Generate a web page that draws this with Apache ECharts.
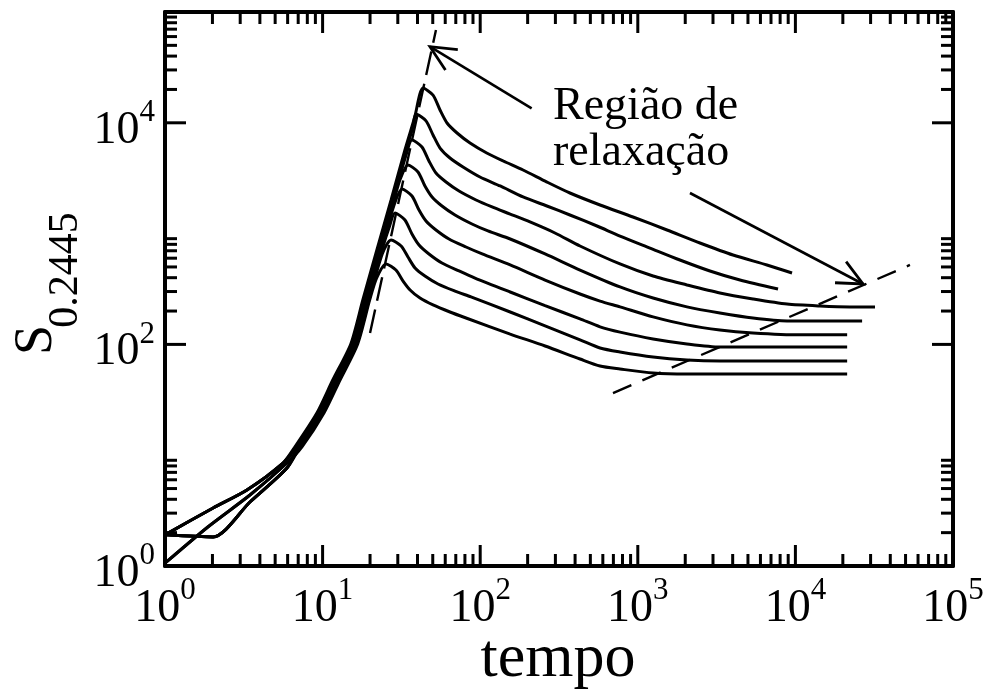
<!DOCTYPE html>
<html>
<head>
<meta charset="utf-8">
<script src="https://cdn.jsdelivr.net/npm/echarts@6/dist/echarts.min.js"></script>
<style>
  html, body { margin: 0; padding: 0; background: #fff; }
  #chart { width: 990px; height: 692px; }
</style>
</head>
<body>
<div id="chart"></div>
<script>
// ---------------- data ----------------
// axis extents and ticks (log10 scales)
const tMin = 1, tMax = 1e5;
const sMin = 1, sMax = 1e5;
const xMajorTicks = [1, 10, 100, 1000, 10000, 100000];
const xMinorDecades = [1, 10, 100, 1000, 10000];
const yMajorTicks = [1, 100, 10000];
const yMinorDecades = [1, 100, 10000];
const minorMultipliers = [2, 3, 4, 5, 6, 7, 8, 9];
const yLabelledExponents = [0, 2, 4];

// S_0.2445 versus tempo, one array per run ([tempo, S])
const run1 = [[1,1.91],[2.02,3.34],[3.31,4.85],[5.61,8.5],[6.68,11.9],[9.2,24],[11.6,47.7],[15.1,101],[18.0,252],[22.1,711],[27.2,2010],[33.3,5690],[38.3,11050],
  [43.4,20600],[50.2,17800],[55.6,13050],[61.6,9960],[71.3,8090],[86.2,6570],[110,5340],[140,4520],[187,3750],[265,2920],[371,2325],[576,1812],[932,1412],[1532,1078],[2480,823],[4020,641],[6600,521],[9520,441]];
const run2 = [[1,1.91],[2.02,3.34],[3.31,4.85],[5.61,8.5],[6.78,11.9],[9.34,24],[11.8,47.7],[15.3,101],[18.3,252],[22.4,711],[27.6,2010],[33.8,5690],[37.3,8980],
  [39.1,12000],[45.3,10400],[50.2,7760],[55.6,5920],[64.3,4810],[77.8,3990],[99.7,3240],[134,2690],[187,2140],[265,1775],[371,1472],[551,1171],[771,951],[1195,741],[1850,578],[2870,460],[4450,381],[7760,316]];
const run3 = [[1,1.91],[2.02,3.34],[3.31,4.85],[5.61,8.5],[6.88,11.9],[9.48,24],[11.9,47.7],[15.6,101],[18.5,252],[22.8,711],[28.0,2010],[34.0,5230],
  [36.9,7000],[42.7,6050],[47.3,4520],[52.4,3520],[60.7,2920],[73.4,2420],[94.1,2010],[119,1740],[155,1500],[207,1273],[298,1013],[430,773],[771,532],[1250,414],[2050,344],[3320,291],[5380,257],[8850,231],[14300,222],[22200,218],[32000,218]];
const run4 = [[1,1.91],[2.02,1.83],[3.46,3.78],[5.94,7.66],[6.98,11.9],[9.61,24],[12.1,47.7],[15.8,101],[18.8,252],[23.1,711],[28.4,2010],[31.1,3110],
  [34.8,4160],[40.3,3600],[44.6,2690],[49.5,2140],[57.2,1775],[69.2,1472],[88.7,1221],[112,1056],[155,894],[258,655],[430,469],[771,330],[1250,262],[2050,218],[3320,192],[5380,173],[8850,163],[14300,163],[26500,163]];
const run5 = [[1,1.91],[2.02,1.83],[3.46,3.78],[5.94,7.66],[7.08,11.9],[9.75,24],[12.3,47.7],[16.0,101],[19.1,252],[23.4,711],[28.7,1890],
  [31.9,2530],[36.9,2185],[40.9,1633],[45.3,1299],[52.4,1078],[63.4,894],[81.3,757],[103,655],[155,521],[258,381],[430,285],[576,246],[771,218],[1250,177],[2050,150],[3320,135],[5380,127],[10700,122],[21300,122]];
const run6 = [[1,1.91],[2.02,1.83],[3.46,3.78],[5.94,7.66],[7.19,11.9],[9.9,24],[12.5,47.7],[16.2,101],[19.4,252],[23.8,711],[26.5,1147],
  [28.8,1534],[33.3,1327],[36.9,992],[40.9,789],[47.3,655],[57.2,543],[73.4,460],[92.7,397],[155,297],[258,224],[430,170],[576,144],[771,129],[1250,112],[2050,101],[3320,94.7],[5960,94.7],[10700,94.7],[21300,94.7]];
const run7 = [[1,1.06],[1.87,2.25],[3.46,4.37],[5.94,8.5],[7.29,11.9],[10.0,24],[12.7,47.7],[16.5,101],[19.7,252],[23.9,655],
  [27.2,875],[31.5,773],[34.8,615],[38.6,489],[44.6,414],[54.0,351],[69.2,303],[87.4,268],[155,196],[258,147],[430,110],[576,92.8],[771,85.4],[1250,76.9],[2050,72.3],[3320,70.8],[5960,70.8],[10700,70.8],[21300,70.8]];
const run8 = [[1,1.06],[1.87,2.25],[3.46,4.37],[5.94,8.5],[7.40,11.9],[10.2,24],[12.9,47.7],[16.7,101],[19.9,252],[22.0,397],
  [25.3,532],[29.2,469],[32.4,373],[35.9,310],[41.5,262],[50.2,227],[64.3,196],[81.3,173],[155,124],[258,96.7],[430,73.8],[576,63.8],[771,60.0],[1250,55.2],[2050,54.1],[3320,54.1],[5960,54.1],[10700,54.1],[21300,54.1]];
const runs = [run1, run2, run3, run4, run5, run6, run7, run8];

// guide lines through the peaks and through the plateaus
const peakGuide = [[20.0,127],[52.4,68800]];
const plateauGuide = [[696,36.4],[53300,521]];

// annotation arrows: [tempo start, S start, tempo tip, S tip]
const arrows = [
  [212, 13500, 48.0, 48600],
  [2143, 2324, 26850, 351]
];
const annotationText = 'Região de\nrelaxação';
const xTitle = 'tempo';
const yTitleMain = 'S';
const yTitleSub = '0.2445';

// ---------------- chart ----------------
const FONT = '"Liberation Serif", "Times New Roman", serif';
const chart = echarts.init(document.getElementById('chart'), null, { renderer: 'canvas' });

const expOf = v => Math.round(Math.log10(v));
const labelRich = {
  b: { fontSize: 46, fontFamily: FONT, color: '#000', lineHeight: 67 },
  e: { fontSize: 31, fontFamily: FONT, color: '#000', lineHeight: 31, verticalAlign: 'top' }
};

const xTickData = [];
xMajorTicks.forEach(v => xTickData.push([v, sMin, 1]));
xMinorDecades.forEach(d => minorMultipliers.forEach(m => xTickData.push([d * m, sMin, 0])));
const yTickData = [];
yMajorTicks.forEach(v => yTickData.push([tMin, v, 1]));
yMinorDecades.forEach(d => minorMultipliers.forEach(m => yTickData.push([tMin, d * m, 0])));

const TICK_MAJOR = 21, TICK_MINOR = 12, TICK_W = 3;
const tickStyle = { stroke: '#000', lineWidth: TICK_W };

function logAxis(extra) {
  return Object.assign({
    type: 'log', logBase: 10,
    axisLine: { show: true, onZero: false, lineStyle: { color: '#000', width: 4 } },
    axisTick: { show: false },
    splitLine: { show: false },
    minorTick: { show: false },
    minorSplitLine: { show: false }
  }, extra);
}

const lineSeries = runs.map((d, i) => ({
  name: 'run' + (i + 1),
  type: 'line',
  data: d,
  showSymbol: false,
  smooth: 0.25,
  lineStyle: { color: '#000', width: 3 },
  silent: true,
  z: 3
}));

const option = {
  animation: false,
  backgroundColor: '#fff',
  grid: { left: 165, right: 37, top: 12, bottom: 126 },
  xAxis: [
    logAxis({
      min: tMin, max: tMax, position: 'bottom',
      axisLabel: {
        margin: 9,
        formatter: v => '{b|10}{e|' + expOf(v) + '}',
        rich: labelRich,
        showMinLabel: true, showMaxLabel: true
      }
    }),
    logAxis({ min: tMin, max: tMax, position: 'top', axisLabel: { show: false } })
  ],
  yAxis: [
    logAxis({
      min: sMin, max: sMax, position: 'left',
      axisLabel: {
        margin: 10,
        padding: [16, 0, 0, 0],
        formatter: v => yLabelledExponents.indexOf(expOf(v)) >= 0 ? '{b|10}{e|' + expOf(v) + '}' : '',
        rich: labelRich,
        showMinLabel: true, showMaxLabel: true
      }
    }),
    logAxis({ min: sMin, max: sMax, position: 'right', axisLabel: { show: false } })
  ],
  series: [
    ...lineSeries,
    {
      name: 'peakGuide', type: 'line', data: peakGuide, showSymbol: false, silent: true, z: 2,
      lineStyle: { color: '#000', width: 2.4, type: [24, 9] }
    },
    {
      name: 'plateauGuide', type: 'line', data: plateauGuide, showSymbol: false, silent: true, z: 2,
      lineStyle: { color: '#000', width: 2.4, type: [20, 12] }
    },
    {
      name: 'arrows', type: 'custom', data: arrows, encode: { x: [0, 2], y: [1, 3] },
      silent: true, clip: false, z: 4,
      renderItem: (params, api) => {
        const a = api.coord([api.value(0), api.value(1)]);
        const b = api.coord([api.value(2), api.value(3)]);
        const ang = Math.atan2(a[1] - b[1], a[0] - b[0]);
        const L = 28, h = 0.44;
        const p1 = [b[0] + L * Math.cos(ang + h), b[1] + L * Math.sin(ang + h)];
        const p2 = [b[0] + L * Math.cos(ang - h), b[1] + L * Math.sin(ang - h)];
        return {
          type: 'group',
          children: [
            { type: 'line', shape: { x1: a[0], y1: a[1], x2: b[0], y2: b[1] }, style: { stroke: '#000', lineWidth: 2.6 } },
            { type: 'polyline', shape: { points: [p1, b, p2] }, style: { stroke: '#000', lineWidth: 2.8, fill: null } }
          ]
        };
      }
    },
    {
      name: 'xTicks', type: 'custom', data: xTickData, encode: { x: 0, y: 1 },
      silent: true, clip: false, z: 5,
      renderItem: (params, api) => {
        const v = api.value(0);
        const len = api.value(2) ? TICK_MAJOR : TICK_MINOR;
        const pb = api.coord([v, sMin]);
        const pt = api.coord([v, sMax]);
        return {
          type: 'group',
          children: [
            { type: 'line', shape: { x1: pb[0], y1: pb[1], x2: pb[0], y2: pb[1] - len }, style: tickStyle },
            { type: 'line', shape: { x1: pt[0], y1: pt[1], x2: pt[0], y2: pt[1] + len }, style: tickStyle }
          ]
        };
      }
    },
    {
      name: 'yTicks', type: 'custom', data: yTickData, encode: { x: 0, y: 1 },
      silent: true, clip: false, z: 5,
      renderItem: (params, api) => {
        const v = api.value(1);
        const len = api.value(2) ? TICK_MAJOR : TICK_MINOR;
        const pl = api.coord([tMin, v]);
        const pr = api.coord([tMax, v]);
        return {
          type: 'group',
          children: [
            { type: 'line', shape: { x1: pl[0], y1: pl[1], x2: pl[0] + len, y2: pl[1] }, style: tickStyle },
            { type: 'line', shape: { x1: pr[0], y1: pr[1], x2: pr[0] - len, y2: pr[1] }, style: tickStyle }
          ]
        };
      }
    }
  ],
  graphic: [
    {
      type: 'text', x: 553, y: 84, silent: true,
      style: { text: annotationText, font: '46px ' + FONT, fill: '#000', lineHeight: 46, textVerticalAlign: 'top' }
    },
    {
      type: 'text', x: 558, y: 660, silent: true,
      style: { text: xTitle, font: '62px ' + FONT, fill: '#000', textAlign: 'center', textVerticalAlign: 'middle' }
    },
    {
      type: 'text', x: 37, y: 340, rotation: Math.PI / 2, silent: true,
      style: { text: yTitleMain, font: '54px ' + FONT, fill: '#000', textAlign: 'center', textVerticalAlign: 'middle' }
    },
    {
      type: 'text', x: 66, y: 270, rotation: Math.PI / 2, silent: true,
      style: { text: yTitleSub, font: '42px ' + FONT, fill: '#000', textAlign: 'center', textVerticalAlign: 'middle' }
    }
  ]
};

chart.setOption(option);
</script>
</body>
</html>
